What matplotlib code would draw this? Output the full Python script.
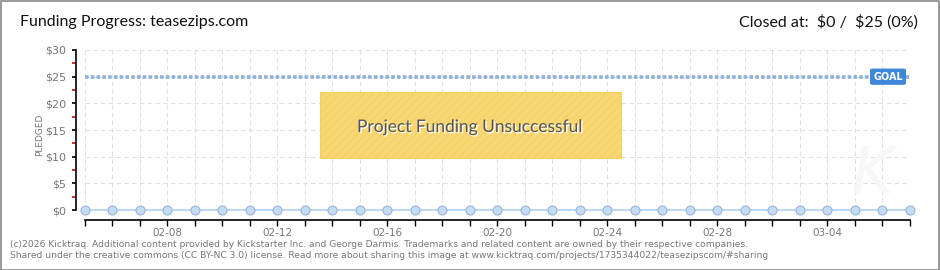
"""Kicktraq-style funding progress chart for teasezips.com."""

import matplotlib
matplotlib.use("Agg")
import matplotlib.pyplot as plt
from matplotlib.patches import Rectangle
import matplotlib.patheffects as pe
import numpy as np

# ── data ──────────────────────────────────────────────────────────────────────

dates = ["02-05", "02-06", "02-07", "02-08", "02-09", "02-10", "02-11", "02-12",
         "02-13", "02-14", "02-15", "02-16", "02-17", "02-18", "02-19", "02-20",
         "02-21", "02-22", "02-23", "02-24", "02-25", "02-26", "02-27", "02-28",
         "03-01", "03-02", "03-03", "03-04", "03-05", "03-06", "03-07"]
pledged = [0] * len(dates)
goal = 25
y_ticks = [0, 5, 10, 15, 20, 25, 30]

title = "Funding Progress: teasezips.com"
closed_text = r"Closed at:  \$0 /  \$25 (0%)"
status_text = "Project Funding Unsuccessful"
footer = ("(c)2026 Kicktraq. Additional content provided by Kickstarter Inc. and George Darmis. "
          "Trademarks and related content are owned by their respective companies.\n"
          "Shared under the creative commons (CC BY-NC 3.0) license. Read more about sharing "
          "this image at www.kicktraq.com/projects/1735344022/teasezipscom/#sharing")

# ── figure ────────────────────────────────────────────────────────────────────

W, H = 940, 270
plt.rcParams["hatch.color"] = "#f2cf68"
plt.rcParams["hatch.linewidth"] = 0.6
fig = plt.figure(figsize=(W / 100, H / 100), dpi=100)
fig.patch.set_facecolor("white")

# faint watermark (behind the transparent axes)
fig.text(872 / W, 1 - 175 / H, "K", fontsize=46, color="#f7f7f7", style="italic",
         ha="center", va="center", zorder=0)

ax = fig.add_axes([76 / W, 50 / H, 834 / W, 170 / H])
ax.patch.set_alpha(0)
x = np.arange(len(dates))

ax.set_xlim(-0.327, len(dates) - 1)
ax.set_ylim(-1.875, 30)

# grid
for v in y_ticks:
    ax.plot([0, len(dates) - 1], [v, v], color="#e0e0e0",
            linestyle=(0, (4, 3)), linewidth=0.8, zorder=0)
for xi in x:
    ax.plot([xi, xi], [0, 30], color="#e0e0e0", linestyle=(0, (4, 3)),
            linewidth=0.8, zorder=0)

# goal line
ax.plot([0, len(dates) - 1], [goal, goal], color="#8fb0d8", linewidth=2.6,
        linestyle=(0, (1.0, 0.6)), zorder=2, solid_capstyle="butt")

# pledged series
ax.plot(x, pledged, color="#b3d3f3", linewidth=1.2, zorder=3, clip_on=False)
ax.scatter(x, pledged, s=42, facecolor="#c5dcf6", edgecolor="#98b4d4",
           linewidth=0.8, zorder=4, clip_on=False)

# axes styling
for side in ("top", "right"):
    ax.spines[side].set_visible(False)
ax.spines["left"].set_bounds(0, 30)
ax.spines["bottom"].set_bounds(0, len(dates) - 1)
ax.spines["left"].set_linewidth(1.2)
ax.spines["bottom"].set_linewidth(1.2)

ax.set_xticks(x)
ax.set_xticklabels([d if i % 4 == 3 else "" for i, d in enumerate(dates)])
ax.tick_params(axis="x", direction="out", length=4, width=1, color="black",
               labelsize=7.5, labelcolor="#777777", pad=2)

ax.set_yticks(y_ticks)
ax.set_yticklabels([f"${v}" for v in y_ticks])
ax.set_yticks([v + 2.5 for v in y_ticks[:-1]], minor=True)
ax.tick_params(axis="y", which="major", direction="out", length=3, width=1.2,
               color="black", labelsize=8, labelcolor="#777777", pad=4)
ax.tick_params(axis="y", which="minor", direction="out", length=3, width=1.2,
               color="#dd0000")
ax.set_ylabel("PLEDGED", fontsize=6.5, color="#777777", labelpad=1)

# GOAL tag
ax.annotate("GOAL", xy=(29.2, goal), ha="center", va="center", fontsize=7,
            color="white", fontweight="bold", zorder=6,
            bbox=dict(boxstyle="round,pad=0.25,rounding_size=0.15",
                      fc="#3f87d8", ec="#3f87d8"))

# status box
fig.patches.append(Rectangle((320 / W, 1 - 158 / H), 301 / W, 66 / H,
                             transform=fig.transFigure, facecolor="#f7d673",
                             edgecolor="#f3d060", hatch="////", linewidth=0.8,
                             zorder=5))
fig.text(470 / W, 1 - 127 / H, status_text, ha="center", va="center",
         fontsize=12.5, color="#555555", family="Lato", zorder=6,
         path_effects=[pe.withSimplePatchShadow(offset=(1, -1),
                                                shadow_rgbFace="white", alpha=1)])

# header
fig.text(20 / W, 1 - 22 / H, title, ha="left", va="center", fontsize=11.5,
         color="#111111", family="Lato")
fig.text(918 / W, 1 - 22 / H, closed_text, ha="right", va="center",
         fontsize=11.5, color="#111111", family="Lato")

# footer
fig.text(10 / W, 1 - 250 / H, footer, ha="left", va="center", fontsize=6.6,
         color="#777777", linespacing=1.35)

# border
fig.patches.append(Rectangle((0.5 / W, 0.5 / H), 1 - 1.5 / W, 1 - 1.5 / H,
                             transform=fig.transFigure, fill=False,
                             edgecolor="#888888", linewidth=1.2))

fig.savefig("out.png", dpi=100)
